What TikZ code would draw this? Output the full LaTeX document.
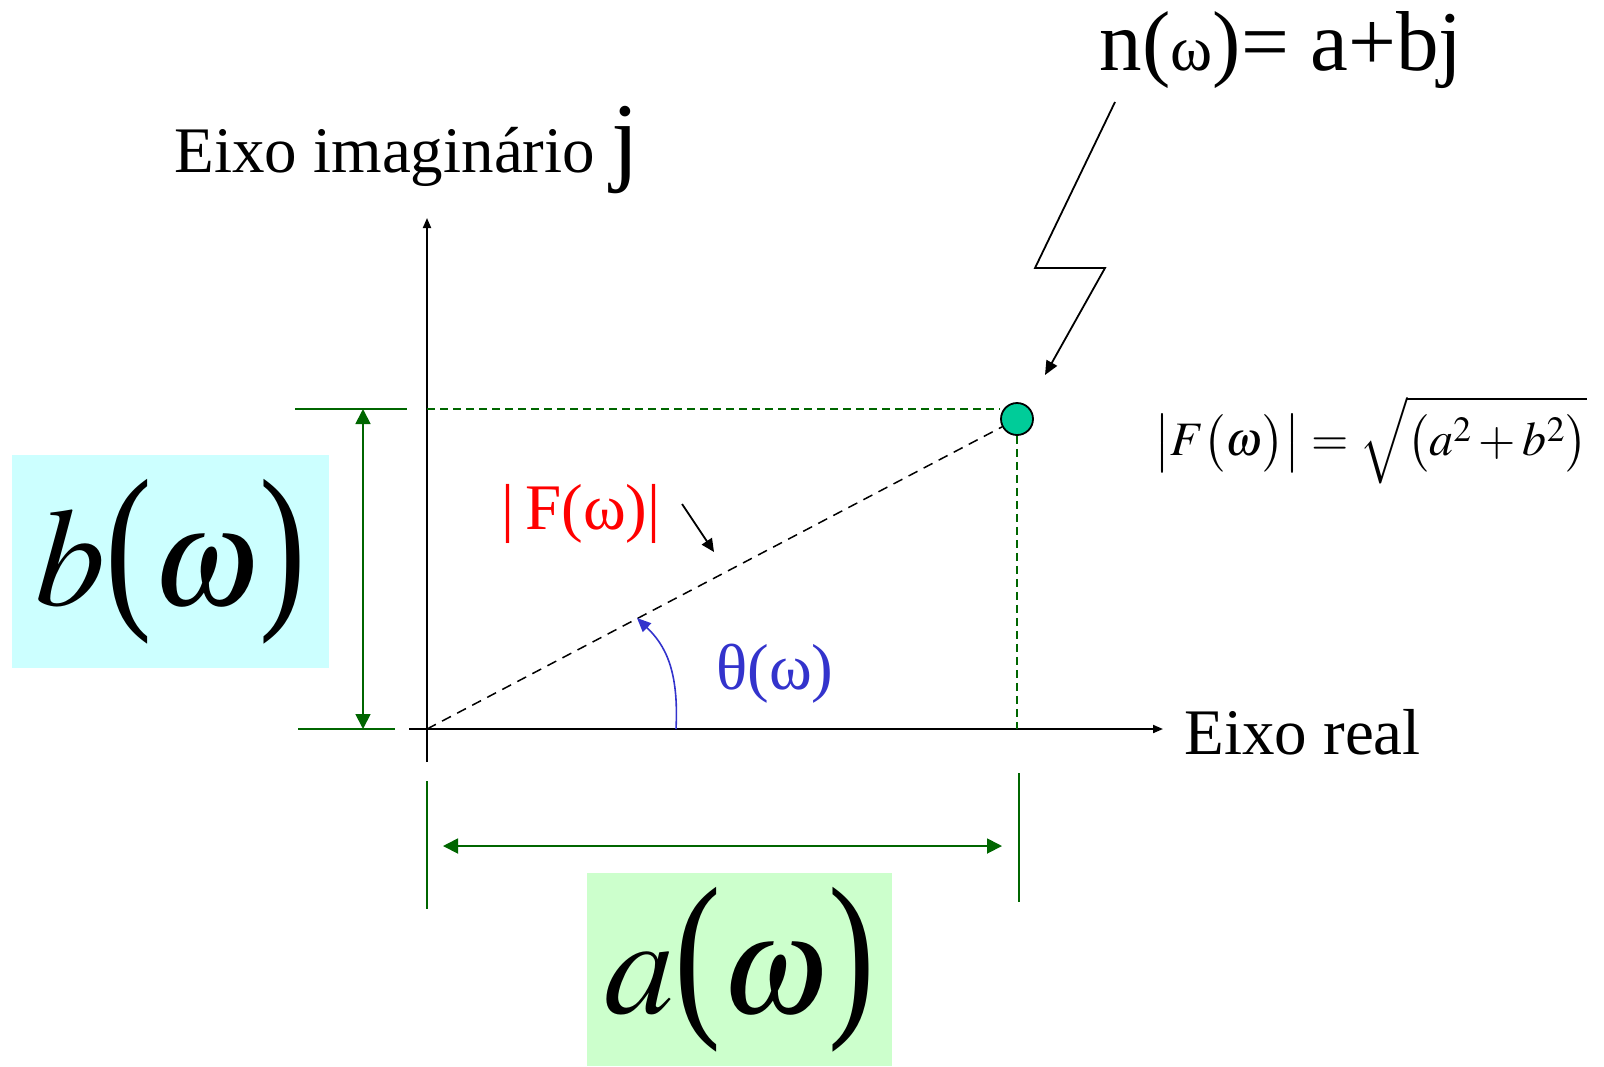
\documentclass[tikz,border=0pt]{standalone}
\usepackage{mathptmx}
\usepackage{graphicx}
\usepackage[no-math]{fontspec}
\setmainfont{Liberation Serif}
\usetikzlibrary{arrows.meta}

\definecolor{dimgreen}{HTML}{006600}
\definecolor{anglblue}{HTML}{3333CC}
\definecolor{ptfill}{HTML}{00CC99}
\definecolor{bfill}{HTML}{CCFFFF}
\definecolor{afill}{HTML}{CCFFCC}

\newcommand{\tallparen}[1]{\scalebox{1}[1.3]{#1}}

\begin{document}
\begin{tikzpicture}[
  x=0.5pt, y=-0.5pt,
  axis/.style={-{Triangle[length=5pt,width=4pt]}, line width=0.9pt},
  dimline/.style={{Triangle[length=7.5pt,width=7.5pt]}-{Triangle[length=7.5pt,width=7.5pt]},
    draw=dimgreen, line width=0.9pt},
  tick/.style={draw=dimgreen, line width=0.9pt},
  guide/.style={draw=dimgreen, dash pattern=on 4pt off 2.5pt, line width=0.75pt},
  radius/.style={dash pattern=on 5pt off 3.5pt, line width=0.75pt},
  pointer/.style={-{Triangle[length=7pt,width=6pt]}, line width=0.9pt},
  dot/.style={circle, draw=black, line width=0.9pt, fill=ptfill, minimum size=16pt, inner sep=0pt},
  bigbox/.style={inner sep=0pt, font=\fontsize{70}{80}\selectfont},
  lbl/.style={inner sep=0pt, font=\fontsize{32.5}{38}\selectfont}
]
\useasboundingbox (0,0) rectangle (1604,1066);

% axes
\coordinate (O) at (427,729);
\coordinate (ytop) at (427,218);
\coordinate (ybot) at (427,762);
\coordinate (xleft) at (409,729);
\coordinate (xright) at (1163,729);
\draw[axis] (ybot) -- (ytop);
\draw[axis] (xleft) -- (xright);

\node[lbl, anchor=base west] (imlbl) at (174,172) {Eixo imagin\'ario {\fontsize{50}{55}\selectfont j}};
\node[lbl, anchor=base west] (relbl) at (1184,754) {Eixo real};

% the point and its projections
\node[dot] (P) at (1017,419) {};
\coordinate (hy) at (427,409);
\draw[guide] (hy) -- (P.west |- hy);
\draw[guide] (P.south) -- (P.south |- O);
\draw[radius] (O) -- (P);

\node[inner sep=0pt, anchor=base, font=\fontsize{42.5}{50}\selectfont] (nlbl) at (1281,70)
  {n({\fontsize{32}{36}\selectfont ω})= a+bj};
\coordinate (z1) at (1115,102);
\coordinate (z2) at (1035,268);
\coordinate (z3) at (1105,268);
\draw[pointer] (z1) -- (z2) -- (z3) -- (1045,375);

\node[inner sep=0pt, font=\fontsize{24}{28}\selectfont] (mag) at (1371,440)
  {$\bigl|F\bigl(\omega\bigr)\bigr| = \sqrt{\bigl(a^{2} + b^{2}\bigr)}$};

% magnitude and angle
\node[lbl, anchor=base, text=red] (flbl) at (581,529) {|\,F(ω)|};
\coordinate (fa) at (682,504);
\coordinate (fb) at (714,552);
\draw[pointer, -{Triangle[length=6.5pt,width=6pt]}] (fa) -- (fb);

\node[lbl, anchor=base, text=anglblue] (thlbl) at (775,689) {θ(ω)};
\coordinate (th0) at (676,729);
\coordinate (th1) at (637,618);
\draw[-{Triangle[length=7pt,width=6pt]}, draw=anglblue, line width=0.8pt]
  (th0) .. controls (679,670) and (665,645) .. (th1);

% imaginary part
\draw[tick] (295,409) -- (407,409);
\draw[tick] (298,729) -- (395,729);
\draw[dimline] (363,409) -- (363,729);
\node[bigbox, fill=bfill, minimum width=158.5pt, minimum height=106.5pt] (blbl) at (170.5,561.5)
  {$b$\tallparen{(}$\omega$\tallparen{)}};

% real part
\draw[tick] (427,781) -- (427,909);
\draw[tick] (1019,773) -- (1019,902);
\draw[dimline] (443,846) -- (1002,846);
\node[bigbox, fill=afill, minimum width=152.5pt, minimum height=96.5pt] (albl) at (739.5,969.5)
  {$a$\tallparen{(}$\omega$\tallparen{)}};

\end{tikzpicture}
\end{document}
